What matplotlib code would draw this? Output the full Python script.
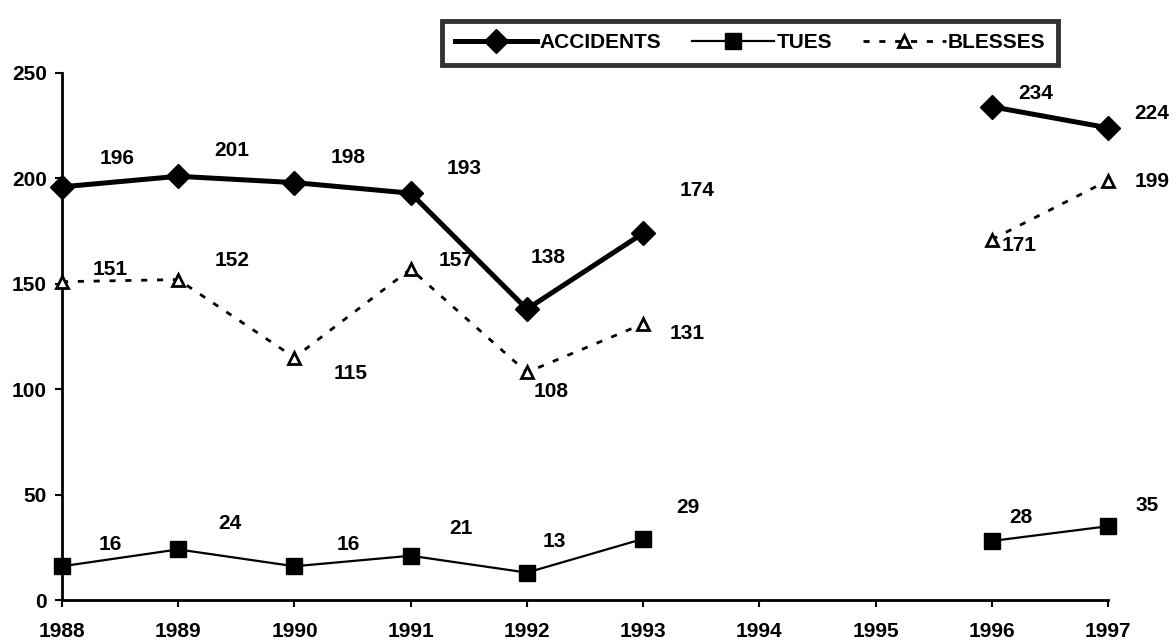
import numpy as np
import matplotlib.pyplot as plt

plt.rcParams['font.family'] = ['Liberation Sans', 'DejaVu Sans']
plt.rcParams['font.weight'] = 'bold'

years = [1988, 1989, 1990, 1991, 1992, 1993, 1994, 1995, 1996, 1997]
accidents = [196, 201, 198, 193, 138, 174, np.nan, np.nan, 234, 224]
tues = [16, 24, 16, 21, 13, 29, np.nan, np.nan, 28, 35]
blesses = [151, 152, 115, 157, 108, 131, np.nan, np.nan, 171, 199]

# label offsets in pixels (dx, dy), positive dy = up
acc_off = [(55, 28), (54, 26), (54, 25), (53, 25), (21, 52), (54, 43), None, None, (44, 13), (44, 14)]
tues_off = [(48, 22), (52, 26), (54, 22), (50, 27), (27, 31), (45, 31), None, None, (29, 23), (39, 21)]
bl_off = [(48, 12), (54, 19), (56, -16), (45, 9), (24, -19), (44, -10), None, None, (27, -6), (44, -1)]

fig = plt.figure(figsize=(11.76, 6.41), dpi=100)
ax = fig.add_axes([62 / 1176, 1 - 600 / 641, (1108 - 62) / 1176, (600 - 73) / 641])

l1, = ax.plot(years, accidents, color='black', lw=3.6, marker='D', ms=12, clip_on=False, zorder=3)
l2, = ax.plot(years, tues, color='black', lw=1.6, marker='s', ms=11, clip_on=False, zorder=3)
l3, = ax.plot(years, blesses, color='black', lw=2, ls=(0, (2.2, 3.5)), marker='^', ms=9,
              mfc='white', mec='black', mew=2, clip_on=False, zorder=3)

for vals, offs in [(accidents, acc_off), (tues, tues_off), (blesses, bl_off)]:
    for x, v, o in zip(years, vals, offs):
        if o is None or np.isnan(v):
            continue
        ax.annotate(f"{int(v)}", (x, v), xytext=(o[0] * 0.72, o[1] * 0.72),
                    textcoords='offset points', ha='center', va='center',
                    fontsize=15, fontweight='bold')

ax.set_xlim(1988, 1997)
ax.set_ylim(0, 250)
ax.set_xticks(years)
ax.set_yticks(range(0, 251, 50))
ax.tick_params(axis='both', labelsize=15, width=1.5, length=5, direction='out')
ax.tick_params(axis='x', pad=11)
ax.tick_params(axis='y', pad=6)
for lab in ax.get_xticklabels() + ax.get_yticklabels():
    lab.set_fontweight('bold')
for s in ['top', 'right']:
    ax.spines[s].set_visible(False)
for s in ['left', 'bottom']:
    ax.spines[s].set_linewidth(2)

# legend box spans roughly x 437..1063, y 13..72 px
leg = fig.legend([l1, l2, l3], ['ACCIDENTS', 'TUES', 'BLESSES'], ncol=3,
                 loc='center', bbox_to_anchor=(750 / 1176, 1 - 43 / 641),
                 fontsize=15, handlelength=3.95, handletextpad=0.1, columnspacing=1.5,
                 fancybox=False, edgecolor='black', borderpad=0.6, borderaxespad=0)
leg.get_frame().set_linewidth(3.5)
for t in leg.get_texts():
    t.set_fontweight('bold')

fig.savefig('out.png', dpi=100)
